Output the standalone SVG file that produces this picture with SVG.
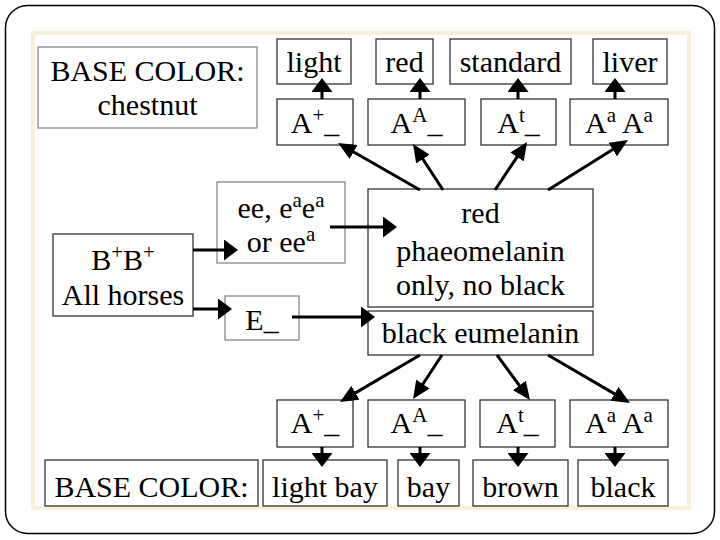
<svg xmlns="http://www.w3.org/2000/svg" width="720" height="540" viewBox="0 0 720 540">
<style>
.box{fill:#fff;stroke:#333;stroke-width:1.3}
.gbox{fill:#fff;stroke:#888;stroke-width:1.3}
text{font-family:"Liberation Serif","Times New Roman",serif;font-size:30px;fill:#000;text-anchor:middle}
.sup{font-size:21px}
.con line{stroke:#000;stroke-width:3}
</style>
<defs>
<marker id="ad" viewBox="0 0 18 16" refX="8" refY="8" markerWidth="18" markerHeight="16" markerUnits="userSpaceOnUse" orient="auto"><path d="M0,0 L18,8 L0,16 z" fill="#000"/></marker>
<marker id="av" viewBox="0 0 14 21" refX="6" refY="10.5" markerWidth="14" markerHeight="21" markerUnits="userSpaceOnUse" orient="auto"><path d="M0,0 L14,10.5 L0,21 z" fill="#000"/></marker>
</defs>
<rect width="720" height="540" fill="#fff"/>
<rect x="5.5" y="5.5" width="709" height="528" rx="22" fill="#fff" stroke="#000" stroke-width="1.5"/>
<rect x="33" y="33" width="656" height="475" fill="#fff" stroke="#f8f1da" stroke-width="4"/>

<g id="chestnut"><rect class="gbox" x="38" y="47" width="219" height="81"/><text x="147.5" y="81">BASE COLOR:</text><text x="147.5" y="115">chestnut</text></g>
<g id="light"><rect class="box" x="277" y="39" width="74" height="45"/><text x="314" y="72">light</text></g>
<g id="red"><rect class="box" x="376" y="39" width="57" height="45"/><text x="404.5" y="72">red</text></g>
<g id="standard"><rect class="box" x="450" y="39" width="121" height="45"/><text x="510.5" y="72">standard</text></g>
<g id="liver"><rect class="box" x="593" y="39" width="74" height="45"/><text x="630" y="72">liver</text></g>

<g id="tA1"><rect class="box" x="277" y="99" width="76" height="46"/><text x="315" y="133">A<tspan class="sup" dy="-11">+</tspan><tspan dy="11">_</tspan></text></g>
<g id="tA2"><rect class="box" x="368" y="99" width="97" height="46"/><text x="416.5" y="133">A<tspan class="sup" dy="-11">A</tspan><tspan dy="11">_</tspan></text></g>
<g id="tA3"><rect class="box" x="481" y="99" width="75" height="46"/><text x="518.5" y="133">A<tspan class="sup" dy="-11">t</tspan><tspan dy="11">_</tspan></text></g>
<g id="tA4"><rect class="box" x="570" y="99" width="98" height="46"/><text x="619" y="133">A<tspan class="sup" dy="-11">a</tspan><tspan dy="11"> A</tspan><tspan class="sup" dy="-11">a</tspan></text></g>

<g id="bb"><rect class="box" x="53" y="234" width="140" height="82"/><text x="123" y="270">B<tspan class="sup" dy="-11">+</tspan><tspan dy="11">B</tspan><tspan class="sup" dy="-11">+</tspan></text><text x="123" y="305">All horses</text></g>
<g id="ee"><rect class="gbox" x="217" y="182" width="128" height="81"/><text x="281" y="218">ee, e<tspan class="sup" dy="-11">a</tspan><tspan dy="11">e</tspan><tspan class="sup" dy="-11">a</tspan></text><text x="281" y="252">or ee<tspan class="sup" dy="-11">a</tspan></text></g>
<g id="E"><rect class="gbox" x="225" y="296" width="74" height="44"/><text x="262" y="330">E_</text></g>
<g id="redpig"><rect class="box" x="368" y="189" width="225" height="118"/><text x="480.5" y="223">red</text><text x="480.5" y="261">phaeomelanin</text><text x="480.5" y="295">only, no black</text></g>
<g id="blackpig"><rect class="box" x="368" y="311" width="225" height="44"/><text x="480.5" y="343">black eumelanin</text></g>

<g id="bA1"><rect class="box" x="277" y="400" width="76" height="47"/><text x="315" y="433">A<tspan class="sup" dy="-11">+</tspan><tspan dy="11">_</tspan></text></g>
<g id="bA2"><rect class="box" x="368" y="400" width="97" height="47"/><text x="416.5" y="433">A<tspan class="sup" dy="-11">A</tspan><tspan dy="11">_</tspan></text></g>
<g id="bA3"><rect class="box" x="480" y="400" width="75" height="47"/><text x="517.5" y="433">A<tspan class="sup" dy="-11">t</tspan><tspan dy="11">_</tspan></text></g>
<g id="bA4"><rect class="box" x="570" y="400" width="98" height="47"/><text x="619" y="433">A<tspan class="sup" dy="-11">a</tspan><tspan dy="11"> A</tspan><tspan class="sup" dy="-11">a</tspan></text></g>

<g id="base2"><rect class="box" x="45" y="460" width="213" height="46"/><text x="151.5" y="497">BASE COLOR:</text></g>
<g id="lightbay"><rect class="box" x="263" y="460" width="124" height="46"/><text x="325" y="497">light bay</text></g>
<g id="bay"><rect class="box" x="398" y="460" width="61" height="46"/><text x="428.5" y="497">bay</text></g>
<g id="brown"><rect class="box" x="473" y="460" width="95" height="46"/><text x="520.5" y="497">brown</text></g>
<g id="black"><rect class="box" x="578" y="460" width="90" height="46"/><text x="623" y="497">black</text></g>

<g id="connectors" class="con">
<line x1="322" y1="99" x2="322" y2="86" marker-end="url(#av)"/>
<line x1="420" y1="99" x2="420" y2="86" marker-end="url(#av)"/>
<line x1="518" y1="99" x2="518" y2="86" marker-end="url(#av)"/>
<line x1="615" y1="99" x2="615" y2="86" marker-end="url(#av)"/>
<line x1="420" y1="190" x2="346.7" y2="148" marker-end="url(#ad)"/>
<line x1="443" y1="190" x2="418.5" y2="152.4" marker-end="url(#ad)"/>
<line x1="495" y1="190" x2="521.5" y2="150.3" marker-end="url(#ad)"/>
<line x1="548" y1="190" x2="619.5" y2="145.3" marker-end="url(#ad)"/>
<line x1="193" y1="250" x2="230" y2="250" marker-end="url(#av)"/>
<line x1="193" y1="309" x2="224" y2="309" marker-end="url(#av)"/>
<line x1="330" y1="227" x2="389" y2="227" marker-end="url(#av)"/>
<line x1="292" y1="317" x2="367" y2="317" marker-end="url(#av)"/>
<line x1="420" y1="355" x2="348.6" y2="396.9" marker-end="url(#ad)"/>
<line x1="442" y1="355" x2="418.5" y2="390.7" marker-end="url(#ad)"/>
<line x1="497" y1="355" x2="524.1" y2="391.9" marker-end="url(#ad)"/>
<line x1="548" y1="355" x2="621.4" y2="397.9" marker-end="url(#ad)"/>
<line x1="322" y1="447" x2="322" y2="459" marker-end="url(#av)"/>
<line x1="420" y1="447" x2="420" y2="459" marker-end="url(#av)"/>
<line x1="518" y1="447" x2="518" y2="459" marker-end="url(#av)"/>
<line x1="615" y1="447" x2="615" y2="459" marker-end="url(#av)"/>
</g>
</svg>
